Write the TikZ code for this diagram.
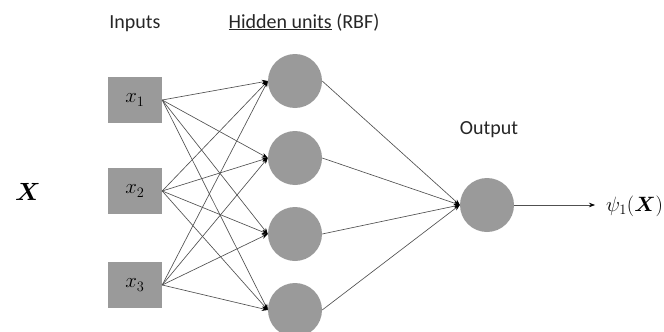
\documentclass[tikz,border=0pt]{standalone}
\usepackage{fontspec}
\usepackage{bm}
\setsansfont{Carlito}
\usetikzlibrary{arrows.meta}
\definecolor{nodegray}{RGB}{154,154,154}
\definecolor{linegray}{RGB}{80,80,80}
\begin{document}
\begin{tikzpicture}[x=1pt,y=-1pt,
  inbox/.style={rectangle,fill=nodegray,minimum width=54pt,minimum height=46pt,inner sep=0pt,
    font=\fontsize{22}{24}\selectfont},
  unit/.style={circle,fill=nodegray,minimum size=54pt,inner sep=0pt},
  link/.style={draw=linegray,line width=0.65pt,-{Stealth[length=6pt,width=4.5pt,color=black]}},
  lbl/.style={font=\sffamily\fontsize{20}{22}\selectfont,text=black!85,anchor=base,inner sep=0pt}]
\useasboundingbox (0,0) rectangle (664,332);
\clip (0,0) rectangle (664,332);
% inputs
\node[inbox] (x1) at (135,100) {$x_1$};
\node[inbox] (x2) at (135,191) {$x_2$};
\node[inbox] (x3) at (135,285) {$x_3$};
% hidden
\node[unit] (h1) at (295,81) {};
\node[unit] (h2) at (295,158) {};
\node[unit] (h3) at (295,234) {};
\node[unit] (h4) at (295,310) {};
% output
\node[unit] (o) at (487,205) {};
\coordinate (end) at (595,205);
% labels
\node[lbl] (tin) at (135,28) {Inputs};
\node[lbl] (thid) at (304,28) {\underline{Hidden units} (RBF)};
\node[lbl] (tout) at (489,134) {Output};
\node[inner sep=0pt,font=\fontsize{37}{40}\selectfont] (bigx) at (28,192) {$\bm{X}$};
\node[anchor=base west,inner sep=0pt,font=\fontsize{20}{22}\selectfont] (psi) at (606,211) {$\psi_1(\bm{X})$};
% connections
\foreach \i in {1,2,3}{
  \foreach \j in {1,2,3,4}{
    \draw[link] (x\i.east) -- (h\j.west);
  }
}
\foreach \j in {1,2,3,4}{
  \draw[link] (h\j.east) -- (o.west);
}
\draw[link] (o.east) -- (end);
\end{tikzpicture}
\end{document}
